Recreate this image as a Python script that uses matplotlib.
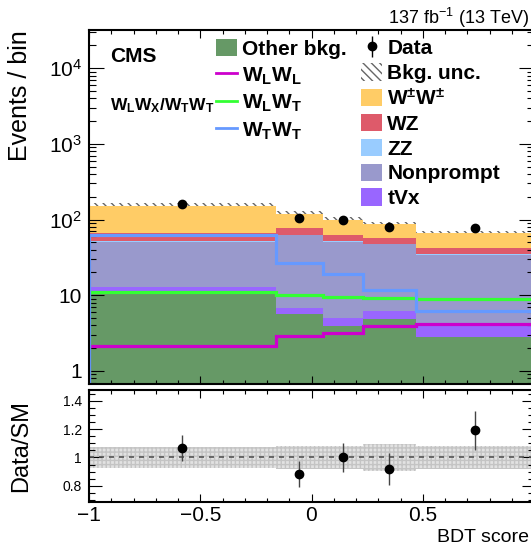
import numpy as np
import matplotlib
matplotlib.use('Agg')
import matplotlib.pyplot as plt
from matplotlib.patches import Patch
from matplotlib.lines import Line2D
from matplotlib.ticker import FixedLocator, MultipleLocator, LogLocator, NullFormatter, FuncFormatter

plt.rcParams['font.family'] = ['Liberation Sans', 'DejaVu Sans']
plt.rcParams['mathtext.fontset'] = 'custom'
plt.rcParams['mathtext.rm'] = 'Liberation Sans'
plt.rcParams['mathtext.bf'] = 'Liberation Sans:bold'
plt.rcParams['mathtext.it'] = 'Liberation Sans:italic'
plt.rcParams['mathtext.sf'] = 'Liberation Sans'
plt.rcParams['hatch.linewidth'] = 1.0

# ---------------- data ----------------
bin_edges = [-1.0, -0.16, 0.05, 0.23, 0.47, 1.0]
other_bkg = [11.5, 5.6, 3.9, 4.9, 2.8]
tvx = [1.4, 1.1, 1.1, 1.2, 1.5]
nonprompt = [38.0, 56.0, 46.0, 41.6, 30.1]
zz = [0.5, 0.4, 0.4, 0.4, 0.4]
wz = [15.5, 14.2, 11.6, 8.5, 7.2]
wpmwpm = [85.0, 41.4, 36.0, 29.4, 23.5]
data = [162, 105, 99, 79, 78]
ratio_err = [0.09, 0.09, 0.105, 0.11, 0.14]
bkg_unc = [0.073, 0.08, 0.08, 0.095, 0.08]
wlwl = [2.1, 2.9, 3.2, 3.95, 4.15]
wlwt = [10.9, 10.2, 9.5, 9.2, 8.9]
wtwt = [63.0, 27.0, 19.0, 11.8, 6.2]
x_tick_labels = {-1.0: '\u22121', -0.5: '\u22120.5', 0.0: '0', 0.5: '0.5'}

stack_vals = [other_bkg, tvx, nonprompt, zz, wz, wpmwpm]
stack_colors = ['#669966', '#9966ff', '#9999cc', '#99ccff', '#de5a6a', '#ffcc66']

edges = np.array(bin_edges)
centers = 0.5 * (edges[1:] + edges[:-1])
data_a = np.array(data, dtype=float)
pred = np.sum(np.array(stack_vals), axis=0)
ratio = data_a / pred
unc = np.array(bkg_unc)

YMIN, YMAX = 0.67, 3.2e4

fig = plt.figure(figsize=(5.31, 5.46), dpi=100)
ax = fig.add_axes([89/531, 1-384/546, 445/531, 354/546])
rax = fig.add_axes([89/531, 1-502/546, 445/531, 112/546])

ext = lambda a: np.append(a, a[-1])
ax.fill_between(edges, ext(pred*(1-unc)), ext(pred*(1+unc)), step='post',
                facecolor='none', edgecolor='#666666', hatch='\\\\\\\\', linewidth=0, zorder=0.5)

cum = np.zeros(len(pred))
for vals, col in zip(stack_vals, stack_colors):
    cum_new = cum + np.array(vals)
    base = np.where(cum > 0, cum, YMIN*0.5)
    ax.stairs(cum_new, edges, baseline=base, fill=True, color=col, linewidth=0, zorder=1)
    cum = cum_new

for vals, col in zip([wlwl, wlwt, wtwt], ['#cc00cc', '#33ff33', '#6699ff']):
    ax.stairs(vals, edges, baseline=YMIN*0.5, color=col, linewidth=2.3, zorder=2)

ax.errorbar(centers, data_a, yerr=np.sqrt(data_a), fmt='o', color='black', markersize=6,
            elinewidth=1, capsize=0, zorder=4)

ax.set_yscale('log')
ax.set_ylim(YMIN, YMAX)
ax.set_xlim(-1, 1)
ax.yaxis.set_major_locator(FixedLocator([1, 10, 100, 1000, 10000]))
ax.yaxis.set_major_formatter(FuncFormatter(lambda v, p: {1: '1', 10: '10', 100: r'$10^2$', 1000: r'$10^3$', 10000: r'$10^4$'}.get(int(round(v)), '')))
ax.yaxis.set_minor_locator(LogLocator(base=10, subs=np.arange(2, 10)))
ax.yaxis.set_minor_formatter(NullFormatter())
ax.xaxis.set_major_locator(MultipleLocator(0.5))
ax.xaxis.set_minor_locator(MultipleLocator(0.1))
ax.tick_params(axis='x', labelbottom=False)
ax.tick_params(which='both', direction='in', top=True, right=True, width=0.8)
ax.tick_params(axis='y', which='major', length=11, labelsize=15, pad=5)
ax.tick_params(axis='y', which='minor', length=5)
ax.tick_params(axis='x', which='major', length=6)
ax.tick_params(axis='x', which='minor', length=3)
ax.set_ylabel('Events / bin', fontsize=18)
ax.yaxis.set_label_coords(-0.128, 0.815)
for s in ax.spines.values():
    s.set_linewidth(1.5)
    s.set_zorder(5)

ax.text(0.047, 0.925, 'CMS', transform=ax.transAxes, fontsize=15, fontweight='bold', va='center', ha='left')
ax.text(0.047, 0.785, r'$\mathbf{W_{L}W_{X}/W_{T}W_{T}}$', transform=ax.transAxes, fontsize=12.5, va='center', ha='left')
fig.text(529/531, 1-24/546, r'137 fb$^{-1}$ (13 TeV)', fontsize=13, ha='right', va='baseline')

# legends
h_left = [Patch(facecolor='#669966', edgecolor='none'),
          Line2D([], [], color='#cc00cc', lw=2),
          Line2D([], [], color='#33ff33', lw=2),
          Line2D([], [], color='#6699ff', lw=2)]
l_left = ['Other bkg.', r'$\mathbf{W_{L}W_{L}}$', r'$\mathbf{W_{L}W_{T}}$', r'$\mathbf{W_{T}W_{T}}$']
leg1 = ax.legend(h_left, l_left, loc='upper left', bbox_to_anchor=(0.285, 0.974), frameon=False,
                 prop={'weight': 'bold', 'size': 15}, handlelength=1.0, handleheight=0.9,
                 handletextpad=0.25, labelspacing=0.3, borderpad=0, borderaxespad=0)
ax.add_artist(leg1)
data_h = ax.errorbar([], [], yerr=[], fmt='o', color='black', markersize=6, elinewidth=1)
h_right = [data_h, Patch(facecolor='white', edgecolor='#666666', hatch='\\\\\\\\', linewidth=0),
           Patch(facecolor='#ffcc66'), Patch(facecolor='#de5a6a'), Patch(facecolor='#99ccff'),
           Patch(facecolor='#9999cc'), Patch(facecolor='#9966ff')]
l_right = ['Data', 'Bkg. unc.', r'$\mathbf{W^{\pm}W^{\pm}}$', 'WZ', 'ZZ', 'Nonprompt', 'tVx']
leg2 = ax.legend(h_right, l_right, loc='upper left', bbox_to_anchor=(0.612, 0.976), frameon=False,
                 prop={'weight': 'bold', 'size': 15}, handlelength=1.0, handleheight=0.9,
                 handletextpad=0.25, labelspacing=0.24, borderpad=0, borderaxespad=0)

# ratio panel
rax.fill_between(edges, ext(1-unc), ext(1+unc), step='post', facecolor='#e2e2e2',
                 edgecolor='#c4c4c4', hatch='++++', linewidth=0, zorder=1)
rax.axhline(1.0, color='#555555', lw=1.2, ls=(0, (3, 3)), zorder=2)
rax.errorbar(centers, ratio, yerr=ratio_err, fmt='o', color='black', ecolor='#444444',
             markersize=6, elinewidth=1, capsize=0, zorder=4)
rax.set_xlim(-1, 1)
rax.set_ylim(0.686, 1.476)
rax.xaxis.set_major_locator(MultipleLocator(0.5))
rax.xaxis.set_minor_locator(MultipleLocator(0.1))
rax.yaxis.set_major_locator(FixedLocator([0.8, 1.0, 1.2, 1.4]))
rax.yaxis.set_minor_locator(MultipleLocator(0.05))
rax.xaxis.set_major_formatter(FuncFormatter(lambda v, p: x_tick_labels.get(round(v, 2), '')))
rax.yaxis.set_major_formatter(FuncFormatter(lambda v, p: '%g' % v))
rax.tick_params(which='both', direction='in', top=True, right=True, width=0.8)
rax.tick_params(axis='y', which='major', length=9, labelsize=10, pad=5)
rax.tick_params(axis='y', which='minor', length=4.5)
rax.tick_params(axis='x', which='major', length=6, labelsize=15, pad=3)
rax.tick_params(axis='x', which='minor', length=3)
rax.set_ylabel('Data/SM', fontsize=17)
rax.yaxis.set_label_coords(-0.128, 0.5)
fig.text(529/531, 1-537/546, 'BDT score', fontsize=14, ha='right', va='center')
for s in rax.spines.values():
    s.set_linewidth(1.5)
    s.set_zorder(5)

fig.savefig('out.png', dpi=100)
